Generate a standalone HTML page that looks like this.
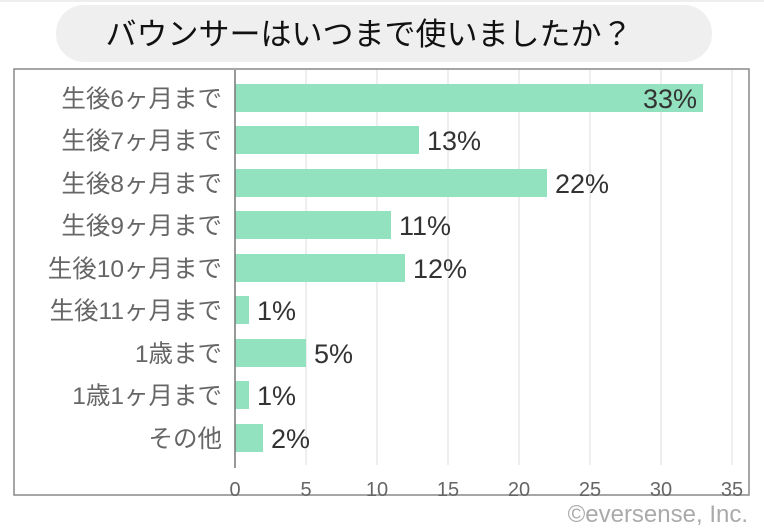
<!DOCTYPE html>
<html><head><meta charset="utf-8"><style>
body{margin:0;width:764px;height:527px;background:#fff;overflow:hidden;font-family:"Liberation Sans","Noto Sans CJK JP",sans-serif}
</style></head><body>
<svg width="764" height="527" xmlns="http://www.w3.org/2000/svg" font-family="Liberation Sans, Noto Sans CJK JP, sans-serif">
<rect x="0" y="0" width="764" height="2" fill="#eee"/>
<rect x="56" y="5" width="656" height="57" rx="28" fill="#efefef"/>
<text x="369" y="45" font-size="31" text-anchor="middle" fill="#111">バウンサーはいつまで使いましたか？</text>
<rect x="14" y="69" width="735" height="426" fill="none" stroke="#888" stroke-width="1.5"/>
<g stroke="#ddd" stroke-width="1">
<line x1="306" y1="70" x2="306" y2="465"/><line x1="377" y1="70" x2="377" y2="465"/>
<line x1="448" y1="70" x2="448" y2="465"/><line x1="519" y1="70" x2="519" y2="465"/>
<line x1="590" y1="70" x2="590" y2="465"/><line x1="661" y1="70" x2="661" y2="465"/>
<line x1="732" y1="70" x2="732" y2="465"/>
</g>
<g fill="#93e2bf">
<rect x="235" y="84" width="468" height="28"/>
<rect x="235" y="126" width="184" height="28"/>
<rect x="235" y="169" width="312" height="28"/>
<rect x="235" y="211" width="156" height="28"/>
<rect x="235" y="254" width="170" height="28"/>
<rect x="235" y="296" width="14" height="28"/>
<rect x="235" y="339" width="71" height="28"/>
<rect x="235" y="381" width="14" height="28"/>
<rect x="235" y="424" width="28" height="28"/>
</g>
<line x1="235" y1="70" x2="235" y2="468" stroke="#777" stroke-width="1.5"/>
<g font-size="24.5" fill="#666" text-anchor="end">
<text x="222" y="107">生後6ヶ月まで</text>
<text x="222" y="149">生後7ヶ月まで</text>
<text x="222" y="192">生後8ヶ月まで</text>
<text x="222" y="234">生後9ヶ月まで</text>
<text x="222" y="277">生後10ヶ月まで</text>
<text x="222" y="319">生後11ヶ月まで</text>
<text x="222" y="362">1歳まで</text>
<text x="222" y="404">1歳1ヶ月まで</text>
<text x="222" y="447">その他</text>
</g>
<g font-size="27" fill="#333">
<text x="697" y="108" text-anchor="end">33%</text>
<text x="427" y="150">13%</text>
<text x="555" y="193">22%</text>
<text x="399" y="235">11%</text>
<text x="413" y="278">12%</text>
<text x="257" y="320">1%</text>
<text x="314" y="363">5%</text>
<text x="257" y="405">1%</text>
<text x="271" y="448">2%</text>
</g>
<g font-size="20" fill="#666" text-anchor="middle">
<text x="235" y="496">0</text><text x="306" y="496">5</text><text x="377" y="496">10</text>
<text x="448" y="496">15</text><text x="519" y="496">20</text><text x="590" y="496">25</text>
<text x="661" y="496">30</text><text x="732" y="496">35</text>
</g>
<text x="748" y="522" font-size="24" fill="#aaa" text-anchor="end">©eversense, Inc.</text>
</svg>
</body></html>
